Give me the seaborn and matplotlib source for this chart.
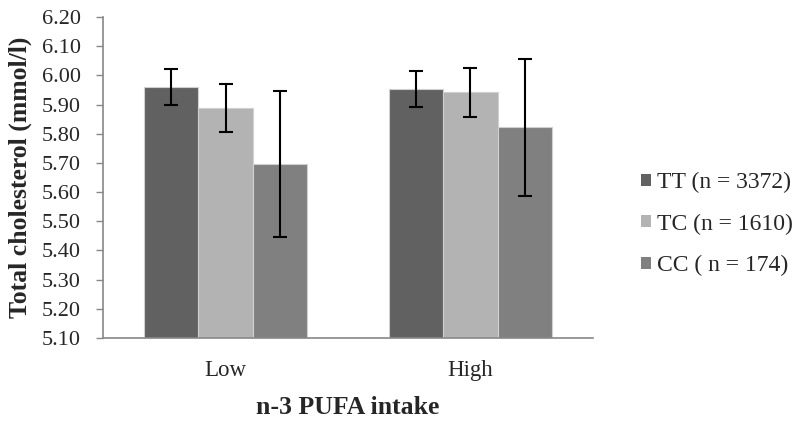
import matplotlib
matplotlib.use("Agg")
import matplotlib.pyplot as plt
import seaborn as sns
import pandas as pd
import numpy as np

categories = ["Low", "High"]
genotypes = ["TT (n = 3372)", "TC (n = 1610)", "CC ( n = 174)"]
means_low = [5.961, 5.887, 5.696]
means_high = [5.953, 5.942, 5.822]
err_low_lo = [5.900, 5.805, 5.446]
err_low_hi = [6.021, 5.970, 5.947]
err_high_lo = [5.893, 5.856, 5.588]
err_high_hi = [6.014, 6.024, 6.055]
colors = ["#616161", "#b3b3b3", "#808080"]

rows = []
for i, g in enumerate(genotypes):
    rows.append({"intake": "Low", "genotype": g, "value": means_low[i],
                 "lo": err_low_lo[i], "hi": err_low_hi[i]})
    rows.append({"intake": "High", "genotype": g, "value": means_high[i],
                 "lo": err_high_lo[i], "hi": err_high_hi[i]})
df = pd.DataFrame(rows)

sns.set_style("white")
plt.rcParams["font.family"] = ["Liberation Serif", "DejaVu Serif"]

fig = plt.figure(figsize=(8, 4.26), dpi=100)
ax = fig.add_axes([0.129, 0.2066, 0.612, 0.7534])

sns.barplot(data=df, x="intake", y="value", hue="genotype", order=categories,
            hue_order=genotypes, palette=colors, errorbar=None, width=0.667,
            edgecolor="#d0d0d0", linewidth=0.8, ax=ax, saturation=1)

for hi_idx, g in enumerate(genotypes):
    cont = ax.containers[hi_idx]
    for ci, cat in enumerate(categories):
        bar = cont[ci]
        r = df[(df.genotype == g) & (df.intake == cat)].iloc[0]
        xc = bar.get_x() + bar.get_width() / 2
        ax.errorbar([xc], [r.value], yerr=[[r.value - r.lo], [r.hi - r.value]],
                    fmt="none", ecolor="black", elinewidth=1.5, capsize=4.7,
                    capthick=1.5, zorder=5)

ax.set_ylim(5.10, 6.20)
ax.set_xlim(-0.5, 1.5)
yt = np.round(np.arange(5.10, 6.201, 0.10), 2)
ax.set_yticks(yt)
ax.set_yticklabels([f"{v:.2f}" for v in yt], fontsize=16)
ax.set_xticks([0, 1])
ax.set_xticklabels(categories, fontsize=16.5)
ax.set_xticks([-0.5, 0.5, 1.5], minor=True)
ax.tick_params(axis="x", which="major", length=0, pad=16)
ax.tick_params(axis="x", which="minor", length=5, color="#888888", width=1, direction="out")
ax.tick_params(axis="y", which="major", length=5, color="#888888", width=1,
               direction="out", left=True, pad=11)

for s in ["top", "right"]:
    ax.spines[s].set_visible(False)
for s in ["left", "bottom"]:
    ax.spines[s].set_color("#888888")
    ax.spines[s].set_linewidth(1.2)

ax.set_ylabel("Total cholesterol (mmol/l)", fontsize=18.5, fontweight="bold",
              va="center")
ax.yaxis.set_label_coords(-0.169, 0.5)
ax.set_xlabel("n-3 PUFA intake", fontsize=18.5, fontweight="bold", va="center")
ax.xaxis.set_label_coords(0.5, -0.218)

leg = ax.legend(loc="center left", bbox_to_anchor=(1.098, 0.355), frameon=False,
                fontsize=17, handlelength=0.45, handleheight=0.4, handletextpad=0.25,
                labelspacing=0.86, borderpad=0, borderaxespad=0)
for h in leg.legend_handles:
    h.set_edgecolor("none")

fig.savefig("out.png", dpi=100)
